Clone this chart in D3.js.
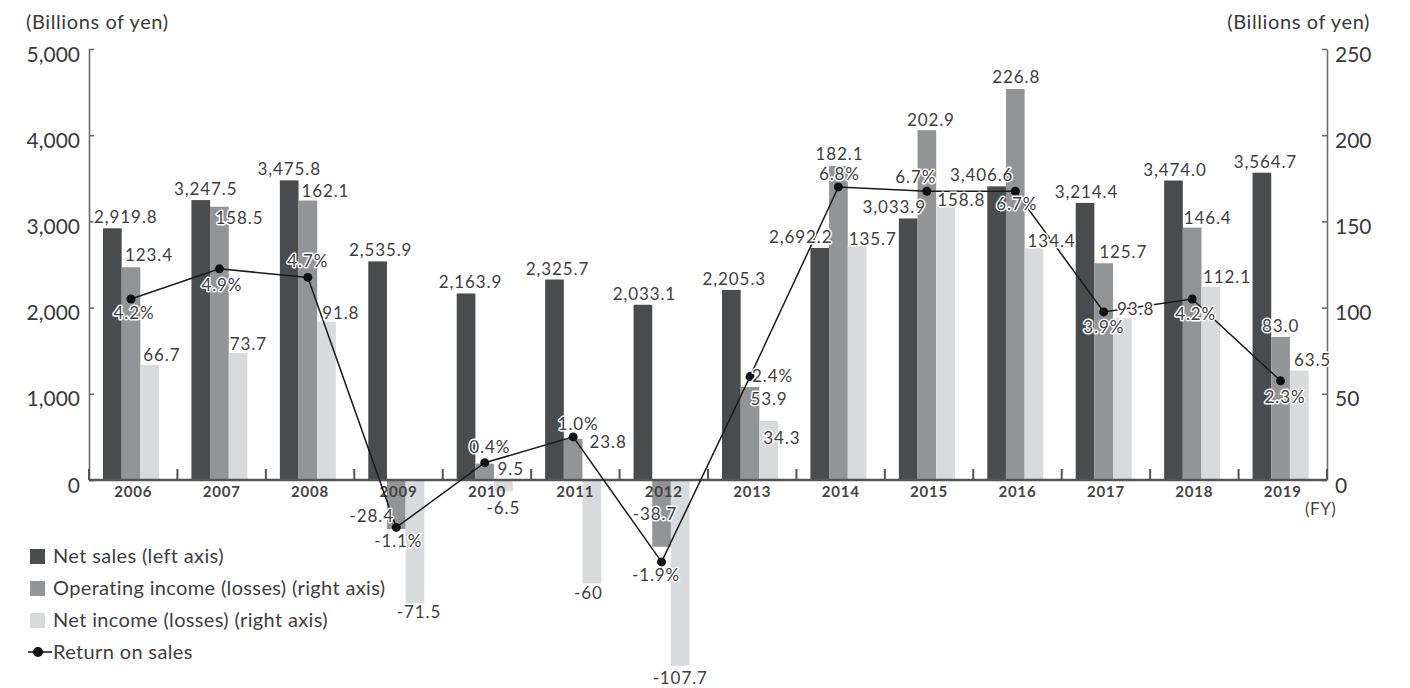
<!DOCTYPE html>
<html>
<head>
<meta charset="utf-8">
<script src="https://cdn.jsdelivr.net/npm/d3@7"></script>
<style>
  body { margin: 0; background: #fff; }
  svg { font-family: Lato, "Open Sans", sans-serif; }
</style>
</head>
<body>
<svg id="chart" width="1410" height="688"></svg>
<script>
// data
const years = ['2006','2007','2008','2009','2010','2011','2012','2013','2014','2015','2016','2017','2018','2019'];
const netSales = [2919.8, 3247.5, 3475.8, 2535.9, 2163.9, 2325.7, 2033.1, 2205.3, 2692.2, 3033.9, 3406.6, 3214.4, 3474.0, 3564.7];
const opIncome = [123.4, 158.5, 162.1, -28.4, 9.5, 23.8, -38.7, 53.9, 182.1, 202.9, 226.8, 125.7, 146.4, 83.0];
const netIncome = [66.7, 73.7, 91.8, -71.5, -6.5, -60, -107.7, 34.3, 135.7, 158.8, 134.4, 93.8, 112.1, 63.5];
const returnOnSales = [4.2, 4.9, 4.7, -1.1, 0.4, 1.0, -1.9, 2.4, 6.8, 6.7, 6.7, 3.9, 4.2, 2.3];
const leftTicks = [0, 1000, 2000, 3000, 4000, 5000];
const rightTicks = [0, 50, 100, 150, 200, 250];

// label nudges (layout only)
const salesDx = [13.5, 5, 0, 3, 4.5, 3, 1.5, 3, -19, -14, -15, 1.5, 1.5, 3.5];
const opDx = [18, 20, 17.5, -24.5, 26, 35, -6.5, 19, 1, 4, 1, 19.5, 15.5, 0];
const opDy = [-1, 22, 1, -23, 16, 14, -43, 23, -1, 1, -1, 0, 1, 0];
const netDx = [3, 1, 5, 4, 0, -3.5, 0, 4, 1, 1, 3, 4, 1.5, 4];
const netDy = [1, 2, 2, -1, 7, 0, 2, 28, 4, 5, 4, 2, 1, 0];
const pctDx = [3, 2.5, 0, 2, 5, 5, -5.5, 22.5, 1, -11, 1.5, 0, 3.5, 4.5];
const pctDy = [20, 22, -10, 20, -10, -7, 19, 5, -7, -8, 19, 21, 21, 22];

const colors = { sales: '#4a4b4d', op: '#939496', net: '#d9dadc' };
const textCol = '#404040';

const svg = d3.select('#chart');
const plotLeft = 89, plotRight = 1327, plotTop = 49, zeroY = 480;

const x = d3.scaleBand().domain(years).range([plotLeft, plotRight]);
const x1 = d3.scaleBand().domain(['sales', 'op', 'net']).range([14, 70]);
const yL = d3.scaleLinear().domain([0, 5000]).range([zeroY, plotTop]);
const yR = d3.scaleLinear().domain([0, 250]).range([zeroY, plotTop]);
const yP = d3.scaleLinear().domain([0, 10]).range([zeroY, plotTop]);

const rows = years.map((yr, i) => ({
  yr, i, sales: netSales[i], op: opIncome[i], net: netIncome[i], pct: returnOnSales[i]
}));

// bars
const g = svg.append('g');
g.selectAll('rect.sales').data(rows).join('rect')
  .attr('x', d => x(d.yr) + x1('sales'))
  .attr('y', d => yL(d.sales))
  .attr('width', x1.bandwidth())
  .attr('height', d => zeroY - yL(d.sales))
  .attr('fill', colors.sales);

g.selectAll('rect.op').data(rows).join('rect')
  .attr('x', d => x(d.yr) + x1('op'))
  .attr('y', d => Math.min(yR(d.op), zeroY))
  .attr('width', x1.bandwidth())
  .attr('height', d => Math.abs(yR(d.op) - zeroY))
  .attr('fill', colors.op);

g.selectAll('rect.net').data(rows).join('rect')
  .attr('x', d => x(d.yr) + x1('net'))
  .attr('y', d => Math.min(yR(d.net), zeroY))
  .attr('width', x1.bandwidth())
  .attr('height', d => Math.abs(yR(d.net) - zeroY))
  .attr('fill', colors.net);

// left axis
const axL = svg.append('g').attr('transform', `translate(${plotLeft},0)`)
  .call(d3.axisLeft(yL).tickValues(leftTicks).tickFormat(d3.format(',')).tickSize(-5).tickSizeOuter(0).tickPadding(9));
// right axis
const axR = svg.append('g').attr('transform', `translate(${plotRight},0)`)
  .call(d3.axisRight(yR).tickValues(rightTicks).tickSize(-5).tickSizeOuter(0).tickPadding(8));
[axL, axR].forEach(ax => {
  ax.select('.domain').attr('stroke', '#6b6b6b').attr('stroke-width', 1.6);
  ax.selectAll('.tick line').attr('stroke', '#6b6b6b').attr('stroke-width', 1.6);
  ax.selectAll('.tick text').attr('font-size', 21).attr('fill', '#3a3a3a')
    .attr('font-family', 'Lato, sans-serif').attr('dy', '0.58em');
});

// x axis line, boundary ticks and year labels
const xa = svg.append('g');
xa.append('line').attr('x1', plotLeft).attr('x2', plotRight).attr('y1', zeroY).attr('y2', zeroY)
  .attr('stroke', '#555').attr('stroke-width', 2.6);
xa.selectAll('line.tk').data(years.concat(['end'])).join('line')
  .attr('x1', d => d === 'end' ? plotRight : x(d))
  .attr('x2', d => d === 'end' ? plotRight : x(d))
  .attr('y1', zeroY).attr('y2', zeroY - 11)
  .attr('stroke', '#555').attr('stroke-width', 2);
xa.selectAll('text').data(years).join('text')
  .attr('x', d => x(d) + x.bandwidth() / 2)
  .attr('y', 497)
  .attr('text-anchor', 'middle')
  .attr('font-size', 15).attr('font-weight', 'bold').attr('letter-spacing', 0.8)
  .attr('fill', '#444')
  .text(d => d);

svg.append('text').attr('x', 1305).attr('y', 515).attr('font-size', 17).attr('letter-spacing', 0.5).attr('fill', '#444').text('(FY)');
svg.append('text').attr('x', 26).attr('y', 29).attr('font-size', 20).attr('letter-spacing', 0.6).attr('fill', '#3a3a3a').text('(Billions of yen)');
svg.append('text').attr('x', 1370).attr('y', 29).attr('text-anchor', 'end').attr('font-size', 20).attr('letter-spacing', 0.6).attr('fill', '#3a3a3a').text('(Billions of yen)');

// return on sales line
const px = d => x(d.yr) + x1('op') + x1.bandwidth() / 2;
svg.append('path').datum(rows)
  .attr('fill', 'none').attr('stroke', '#1a1a1a').attr('stroke-width', 1.5)
  .attr('d', d3.line().x(px).y(d => yP(d.pct)));
svg.selectAll('circle.pt').data(rows).join('circle')
  .attr('cx', px).attr('cy', d => yP(d.pct)).attr('r', 4.5).attr('fill', '#111');

// data labels
const fmt1 = d3.format(',.1f');
const labels = svg.append('g')
  .attr('font-size', 17).attr('fill', textCol).attr('letter-spacing', 0.9)
  .attr('stroke', '#fff').attr('stroke-width', 3).attr('paint-order', 'stroke').attr('stroke-linejoin', 'round');

labels.selectAll('text.s').data(rows).join('text')
  .attr('x', d => x(d.yr) + x1('sales') + x1.bandwidth() / 2 + salesDx[d.i])
  .attr('y', d => yL(d.sales) - 5)
  .attr('text-anchor', 'middle')
  .text(d => fmt1(d.sales));

labels.selectAll('text.o').data(rows).join('text')
  .attr('x', d => x(d.yr) + x1('op') + x1.bandwidth() / 2 + opDx[d.i])
  .attr('y', d => (d.op >= 0 ? yR(d.op) - 5 : yR(d.op) + 16) + opDy[d.i])
  .attr('text-anchor', 'middle')
  .text(d => d.op.toFixed(1));

labels.selectAll('text.n').data(rows).join('text')
  .attr('x', d => d.net >= 0 ? x(d.yr) + x1('net') + netDx[d.i] : x(d.yr) + x1('net') + x1.bandwidth() / 2 + netDx[d.i])
  .attr('y', d => (d.net >= 0 ? yR(d.net) - 5 : yR(d.net) + 16) + netDy[d.i])
  .attr('text-anchor', d => d.net >= 0 ? 'start' : 'middle')
  .text(d => Number.isInteger(d.net) ? d.net : d.net.toFixed(1));

labels.selectAll('text.p').data(rows).join('text')
  .attr('x', d => px(d) + pctDx[d.i])
  .attr('y', d => yP(d.pct) + pctDy[d.i])
  .attr('text-anchor', 'middle')
  .text(d => d.pct.toFixed(1) + '%');

// legend
const legendItems = [
  { name: 'Net sales (left axis)', color: colors.sales },
  { name: 'Operating income (losses) (right axis)', color: colors.op },
  { name: 'Net income (losses) (right axis)', color: colors.net },
  { name: 'Return on sales', line: true }
];
const lg = svg.append('g');
legendItems.forEach((it, i) => {
  const cy = 556 + i * 32;
  if (it.line) {
    lg.append('line').attr('x1', 28).attr('x2', 52).attr('y1', cy).attr('y2', cy).attr('stroke', '#111').attr('stroke-width', 1.5);
    lg.append('circle').attr('cx', 38).attr('cy', cy).attr('r', 5).attr('fill', '#111');
  } else {
    lg.append('rect').attr('x', 30).attr('y', cy - 7).attr('width', 15).attr('height', 15).attr('fill', it.color);
  }
  lg.append('text').attr('x', 53).attr('y', cy + 7).attr('font-size', 20).attr('letter-spacing', 0.35).attr('fill', '#404040').text(it.name);
});
</script>
</body>
</html>
